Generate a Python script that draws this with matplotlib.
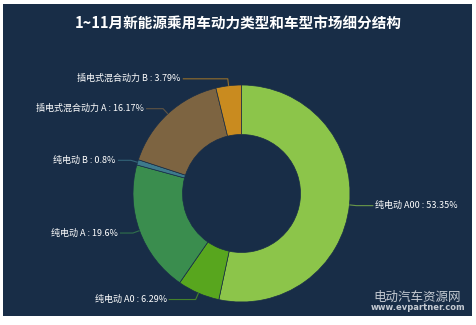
import numpy as np
import matplotlib
matplotlib.use('Agg')
import matplotlib.pyplot as plt
from matplotlib.patches import Rectangle

plt.rcParams['font.family'] = ['Noto Sans CJK SC', 'DejaVu Sans']

# data
title = '1~11月新能源乘用车动力类型和车型市场细分结构'
names = ['纯电动 A00', '纯电动 A0', '纯电动 A', '纯电动 B', '插电式混合动力 A', '插电式混合动力 B']
shares = [53.35, 6.29, 19.6, 0.8, 16.17, 3.79]
label_texts = ['53.35%', '6.29%', '19.6%', '0.8%', '16.17%', '3.79%']

colors = ['#8cc54a', '#58a61e', '#3a8d4e', '#3e7a8c', '#7d6441', '#c98b1f']
# horizontal leader length per label (px)
hlen = [17, 27, 13, 13, 17, 45]

W, H = 477, 325
bg = '#182d47'
fig = plt.figure(figsize=(W / 100, H / 100), dpi=100, facecolor='white')
ax = fig.add_axes([0, 0, 1, 1])
ax.set_facecolor('none')
ax.add_patch(Rectangle((3, H - 316), 469, 312, facecolor=bg,
                       edgecolor='none', zorder=0))

cx, cy = 241.5, H - 193.5
r_out, r_in = 108.5, 59
wedges, _ = ax.pie(shares, colors=colors, startangle=90, counterclock=False,
                   center=(cx, cy), radius=r_out,
                   wedgeprops=dict(width=r_out - r_in, edgecolor=bg, linewidth=0.5))
ax.set_xlim(0, W)
ax.set_ylim(0, H)
ax.set_aspect('equal')
ax.axis('off')

for w, nm, lt, c, hl in zip(wedges, names, label_texts, colors, hlen):
    ang = np.deg2rad((w.theta1 + w.theta2) / 2)
    x0 = cx + r_out * np.cos(ang)
    y0 = cy + r_out * np.sin(ang)
    x1 = cx + (r_out + 7) * np.cos(ang)
    y1 = cy + (r_out + 7) * np.sin(ang)
    side = 1 if np.cos(ang) >= 0 else -1
    x2 = x1 + side * hl
    ax.plot([x0, x1, x2], [y0, y1, y1], color=c, lw=0.8, alpha=0.7,
            solid_capstyle='butt')
    ax.text(x2 + side * 2, y1, nm + ' : ' + lt, color='white', fontsize=6.5,
            fontweight='medium', ha='left' if side > 0 else 'right', va='center')

ax.text(W / 2, H - 24, title, color='white', fontsize=10.5, fontweight='bold',
        ha='center', va='center')

# watermark
ax.text(417, H - 297, '电动汽车资源网', color='#d8dce2', fontsize=9,
        ha='center', va='center', alpha=0.9)
ax.text(418, H - 307, 'www.evpartner.com', color='#d8dce2', fontsize=6,
        fontweight='bold', ha='center', va='center', alpha=0.9,
        family=['DejaVu Sans'])

fig.savefig('out.png', dpi=100, facecolor='white')
